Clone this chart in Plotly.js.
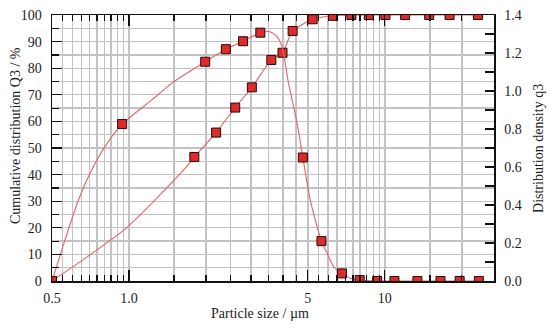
<!DOCTYPE html>
<html>
<head>
<meta charset="utf-8">
<script src="https://cdn.plot.ly/plotly-3.0.1.min.js"></script>
<style>html,body{margin:0;padding:0;background:#fff;}#chart{width:550px;height:328px;}</style>
</head>
<body>
<div id="chart"></div>
<script>
// Cumulative distribution Q3 (%) - markers
const cumX = [0.5, 1.80, 2.19, 2.60, 3.02, 3.60, 3.98, 4.36, 5.22, 6.27, 7.40, 8.65, 10.05, 12.0, 14.9, 17.9, 23.1];
const cumY = [0, 46.6, 55.8, 65.2, 72.8, 83.1, 85.8, 94.0, 98.4, 99.7, 100, 100, 100, 100, 100, 100, 100];
// Cumulative curve
const cumLineX = [0.5, 0.673, 0.965, 1.265, 1.658, 1.80, 2.19, 2.60, 3.02, 3.60, 3.98, 4.36, 5.22, 6.27, 7.40, 8.65, 10.05, 12.0, 14.9, 17.9, 23.1];
const cumLineY = [0, 8.5, 19.5, 30.5, 42.4, 46.6, 55.8, 65.2, 72.8, 83.1, 85.8, 94.0, 98.4, 99.7, 100, 100, 100, 100, 100, 100, 100];
// Distribution density q3 - markers
const denX = [0.5, 0.94, 1.985, 2.39, 2.79, 3.26, 4.78, 5.65, 6.80, 7.97, 9.33, 10.9, 13.4, 16.5, 19.6, 23.3];
const denY = [0, 0.826, 1.154, 1.220, 1.262, 1.307, 0.650, 0.210, 0.040, 0.005, 0, 0, 0, 0, 0, 0];
// Density curve
const denLineX = [0.5, 0.562, 0.634, 0.704, 0.805, 0.94, 1.228, 1.488, 1.985, 2.39, 2.79, 3.26, 3.56, 3.79, 3.96, 4.08, 4.20, 4.34, 4.54, 4.78, 5.11, 5.65, 5.95, 6.31, 6.80, 7.33, 7.97, 9.33, 10.9, 13.4, 16.5, 19.6, 23.3];
const denLineY = [0, 0.216, 0.426, 0.567, 0.707, 0.826, 0.953, 1.047, 1.154, 1.220, 1.262, 1.307, 1.312, 1.286, 1.234, 1.146, 1.040, 0.953, 0.830, 0.650, 0.426, 0.210, 0.146, 0.075, 0.040, 0.014, 0.005, 0, 0, 0, 0, 0, 0];

// Axis ticks
const xMajorVals = [0.5, 1, 5, 10];
const xMajorText = ["0.5", "1.0", "5", "10"];
const xMinorVals = [0.55, 0.6, 0.65, 0.7, 0.75, 0.8, 0.85, 0.9, 0.95, 1.5, 2, 2.5, 3, 3.5, 4, 4.5, 5.5, 6, 6.5, 7, 7.5, 8, 8.5, 9, 9.5, 15, 20];

const lineColor = '#e36464';
const markerFill = '#dd2a2a';
const markerLine = '#2a0808';
const font = 'Liberation Serif';
const gridColor = '#c2c2c2';

const traces = [
  {x: cumLineX, y: cumLineY, mode: 'lines', line: {color: lineColor, width: 1.1, shape: 'spline', smoothing: 0.6}, yaxis: 'y', hoverinfo: 'skip'},
  {x: denLineX, y: denLineY, mode: 'lines', line: {color: lineColor, width: 1.1, shape: 'spline', smoothing: 0.6}, yaxis: 'y2', hoverinfo: 'skip'},
  {x: cumX, y: cumY, mode: 'markers', marker: {symbol: 'square', size: 9, color: markerFill, line: {color: markerLine, width: 1}}, yaxis: 'y'},
  {x: denX, y: denY, mode: 'markers', marker: {symbol: 'square', size: 9, color: markerFill, line: {color: markerLine, width: 1}}, yaxis: 'y2'}
];

const titleFont = {family: font, size: 14, color: '#222'};

const layout = {
  width: 550, height: 328,
  margin: {l: 52, r: 56, t: 15, b: 47},
  paper_bgcolor: '#fff', plot_bgcolor: '#fff',
  showlegend: false,
  font: {family: font, size: 14, color: '#222'},
  xaxis: {
    type: 'log',
    range: [Math.log10(0.5), Math.log10(26.7)],
    tickmode: 'array', tickvals: xMajorVals, ticktext: xMajorText,
    ticks: 'inside', ticklen: 11, tickwidth: 1.2, tickcolor: '#111',
    showgrid: true, gridcolor: gridColor, gridwidth: 1.3,
    minor: {tickmode: 'array', tickvals: xMinorVals, ticks: 'inside', ticklen: 6, tickwidth: 1.2, tickcolor: '#111', showgrid: true, gridcolor: gridColor, gridwidth: 1.3},
    showline: true, linecolor: '#111', linewidth: 1.5, mirror: 'ticks',
    zeroline: false,
    ticklabelstandoff: 4,
    tickfont: {family: font, size: 14, color: '#222'}
  },
  yaxis: {
    range: [0, 100],
    tickmode: 'linear', tick0: 0, dtick: 10,
    ticks: 'inside', ticklen: 10, tickwidth: 1.2, tickcolor: '#111',
    showgrid: true, gridcolor: gridColor, gridwidth: 1.3,
    minor: {dtick: 5, ticks: 'inside', ticklen: 7, tickwidth: 1.2, tickcolor: '#111', showgrid: true, gridcolor: gridColor, gridwidth: 1.3},
    showline: true, linecolor: '#111', linewidth: 1.5,
    zeroline: false,
    ticklabelstandoff: 6,
    tickfont: {family: font, size: 14, color: '#222'}
  },
  yaxis2: {
    overlaying: 'y', side: 'right',
    range: [0, 1.4],
    tickmode: 'linear', tick0: 0, dtick: 0.2, tickformat: '.1f',
    ticks: 'inside', ticklen: 9, tickwidth: 1.2, tickcolor: '#111',
    showgrid: false,
    minor: {dtick: 0.1, ticks: 'inside', ticklen: 9, tickwidth: 1.2, tickcolor: '#111', showgrid: false},
    showline: true, linecolor: '#111', linewidth: 1.5,
    zeroline: false,
    ticklabelstandoff: 6,
    tickfont: {family: font, size: 14, color: '#222'}
  },
  annotations: [
    {text: 'Particle size / µm', xref: 'paper', yref: 'paper', x: 0.4706, y: -0.124, xanchor: 'center', yanchor: 'middle', showarrow: false, font: titleFont},
    {text: 'Cumulative distribution Q3 / %', xref: 'paper', yref: 'paper', x: -0.0837, y: 0.545, xanchor: 'center', yanchor: 'middle', textangle: -90, showarrow: false, font: titleFont},
    {text: 'Distribution density q3', xref: 'paper', yref: 'paper', x: 1.0995, y: 0.5, xanchor: 'center', yanchor: 'middle', textangle: -90, showarrow: false, font: titleFont}
  ]
};

Plotly.newPlot('chart', traces, layout, {staticPlot: true, displayModeBar: false});
</script>
</body>
</html>
